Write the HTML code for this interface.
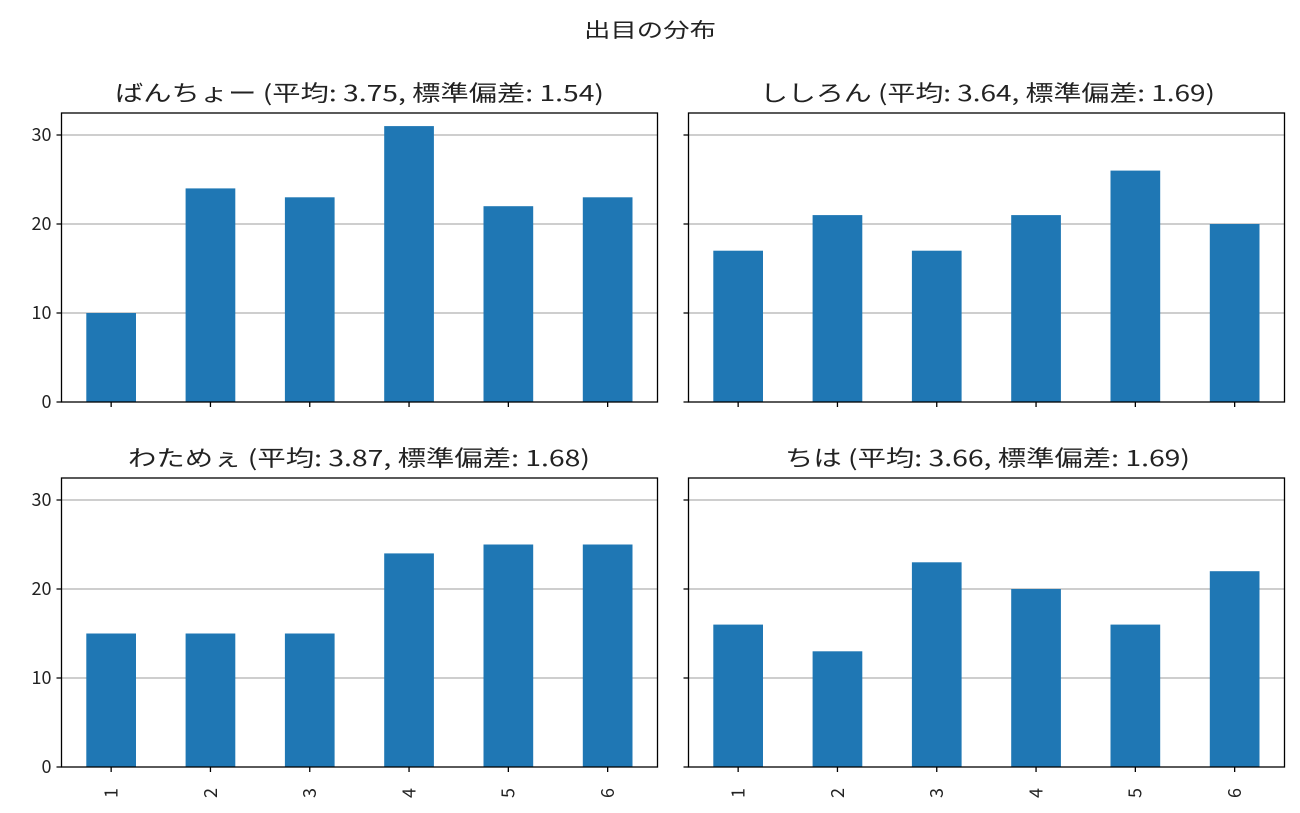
<!DOCTYPE html>
<html><head><meta charset="utf-8"><style>body{margin:0;background:#fff}svg{display:block}text{font-family:"Noto Sans CJK JP","Liberation Sans",sans-serif;fill:#222}</style></head>
<body>
<svg width="1300" height="813" xmlns="http://www.w3.org/2000/svg">
<defs>
<g id="grid">
<line x1="0" x2="596" y1="200" y2="200" stroke="#b0b0b0" stroke-width="1.2"/>
<line x1="0" x2="596" y1="111" y2="111" stroke="#b0b0b0" stroke-width="1.2"/>
<line x1="0" x2="596" y1="22" y2="22" stroke="#b0b0b0" stroke-width="1.2"/>
</g>
<g id="frame" fill="none" stroke="#000" stroke-width="1.3">
<rect x="0" y="0" width="596" height="289"/>
<path d="M0 289h-5M0 200h-5M0 111h-5M0 22h-5M49.65 289v5M148.95 289v5M248.25 289v5M347.55 289v5M446.85 289v5M546.15 289v5"/>
</g>
<g id="ylab" font-size="18" text-anchor="end">
<text x="-10" y="295">0</text><text x="-10" y="206">10</text><text x="-10" y="117">20</text><text x="-10" y="28">30</text>
</g>
<g id="xlab" font-size="18" text-anchor="middle">
<text transform="translate(56,315) rotate(-90)">1</text>
<text transform="translate(155.3,315) rotate(-90)">2</text>
<text transform="translate(254.6,315) rotate(-90)">3</text>
<text transform="translate(353.9,315) rotate(-90)">4</text>
<text transform="translate(453.2,315) rotate(-90)">5</text>
<text transform="translate(552.5,315) rotate(-90)">6</text>
</g>
</defs>
<text x="584" y="37" font-size="20" textLength="132" lengthAdjust="spacingAndGlyphs">出目の分布</text>

<g transform="translate(61.5,113)">
<use href="#grid"/>
<g fill="#1f77b4">
<rect x="24.8" y="200" width="49.7" height="89"/>
<rect x="124.1" y="75.4" width="49.7" height="213.6"/>
<rect x="223.4" y="84.3" width="49.7" height="204.7"/>
<rect x="322.7" y="13.1" width="49.7" height="275.9"/>
<rect x="422" y="93.2" width="49.7" height="195.8"/>
<rect x="521.3" y="84.3" width="49.7" height="204.7"/>
</g>
<use href="#frame"/><use href="#ylab"/>
<text x="53.5" y="-12" font-size="22" textLength="489" lengthAdjust="spacingAndGlyphs">ばんちょー (平均: 3.75, 標準偏差: 1.54)</text>
</g>

<g transform="translate(688.5,113)">
<use href="#grid"/>
<g fill="#1f77b4">
<rect x="24.8" y="137.7" width="49.7" height="151.3"/>
<rect x="124.1" y="102.1" width="49.7" height="186.9"/>
<rect x="223.4" y="137.7" width="49.7" height="151.3"/>
<rect x="322.7" y="102.1" width="49.7" height="186.9"/>
<rect x="422" y="57.6" width="49.7" height="231.4"/>
<rect x="521.3" y="111" width="49.7" height="178"/>
</g>
<use href="#frame"/>
<text x="71.5" y="-12" font-size="22" textLength="455" lengthAdjust="spacingAndGlyphs">ししろん (平均: 3.64, 標準偏差: 1.69)</text>
</g>

<g transform="translate(61.5,478)">
<use href="#grid"/>
<g fill="#1f77b4">
<rect x="24.8" y="155.5" width="49.7" height="133.5"/>
<rect x="124.1" y="155.5" width="49.7" height="133.5"/>
<rect x="223.4" y="155.5" width="49.7" height="133.5"/>
<rect x="322.7" y="75.4" width="49.7" height="213.6"/>
<rect x="422" y="66.5" width="49.7" height="222.5"/>
<rect x="521.3" y="66.5" width="49.7" height="222.5"/>
</g>
<use href="#frame"/><use href="#ylab"/><use href="#xlab"/>
<text x="66.5" y="-12" font-size="22" textLength="462" lengthAdjust="spacingAndGlyphs">わためぇ (平均: 3.87, 標準偏差: 1.68)</text>
</g>

<g transform="translate(688.5,478)">
<use href="#grid"/>
<g fill="#1f77b4">
<rect x="24.8" y="146.6" width="49.7" height="142.4"/>
<rect x="124.1" y="173.3" width="49.7" height="115.7"/>
<rect x="223.4" y="84.3" width="49.7" height="204.7"/>
<rect x="322.7" y="111" width="49.7" height="178"/>
<rect x="422" y="146.6" width="49.7" height="142.4"/>
<rect x="521.3" y="93.2" width="49.7" height="195.8"/>
</g>
<use href="#frame"/><use href="#xlab"/>
<text x="96.5" y="-12" font-size="22" textLength="405" lengthAdjust="spacingAndGlyphs">ちは (平均: 3.66, 標準偏差: 1.69)</text>
</g>
</svg>
</body></html>
